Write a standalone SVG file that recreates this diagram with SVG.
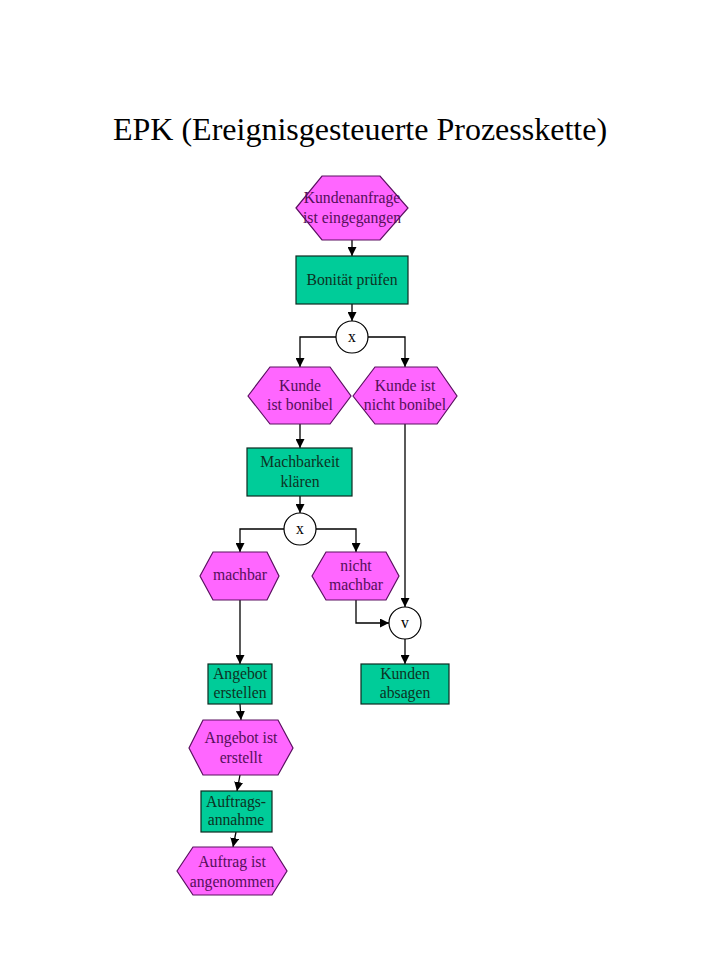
<svg xmlns="http://www.w3.org/2000/svg" width="720" height="960" viewBox="0 0 720 960">
<defs>
<marker id="ah" markerUnits="userSpaceOnUse" markerWidth="9" markerHeight="9" refX="9" refY="4.5" orient="auto">
<path d="M0,0 L9,4.5 L0,9 z" fill="#000"/>
</marker>
<style>
.ev{fill:#ff66ff;stroke:#5a1060;stroke-width:1.2}
.fn{fill:#00cc99;stroke:#0d2a20;stroke-width:1.2}
.op{fill:#fff;stroke:#000;stroke-width:1.2}
.et{font-family:"Liberation Serif",serif;font-size:15.7px;fill:#55105a;text-anchor:middle}
.ft{font-family:"Liberation Serif",serif;font-size:15.7px;fill:#0d3324;text-anchor:middle}
.ot{font-family:"Liberation Serif",serif;font-size:15.7px;fill:#000;text-anchor:middle}
.c{fill:none;stroke:#000;stroke-width:1.3;marker-end:url(#ah)}
</style>
</defs>
<rect width="720" height="960" fill="#fff"/>
<text x="360" y="140" font-family="Liberation Serif,serif" font-size="32" text-anchor="middle" fill="#000">EPK (Ereignisgesteuerte Prozesskette)</text>

<g id="connectors">
<path class="c" d="M352,240 V256"/>
<path class="c" d="M352,304 V321"/>
<path class="c" d="M336,337 H300 V367"/>
<path class="c" d="M368,337 H405 V367"/>
<path class="c" d="M300,424 V448"/>
<path class="c" d="M300,496 V513"/>
<path class="c" d="M284,529 H240 V552"/>
<path class="c" d="M316,529 H356 V552"/>
<path class="c" d="M240,600 V664"/>
<path class="c" d="M405,424 V607"/>
<path class="c" d="M356,600 V623 H389"/>
<path class="c" d="M405,639 V664"/>
<path class="c" d="M240,704 L241,720"/>
<path class="c" d="M240,775 L237,791"/>
<path class="c" d="M236,832 L233,847"/>
</g>

<g id="e1">
<polygon class="ev" points="296,208 322,176 380,176 408,208 380,240 322,240"/>
<text class="et" x="352" y="203">Kundenanfrage</text>
<text class="et" x="352" y="223">ist eingegangen</text>
</g>
<g id="f1">
<rect class="fn" x="296" y="256" width="112" height="48"/>
<text class="ft" x="352" y="285">Bonität prüfen</text>
</g>
<g id="x1">
<circle class="op" cx="352" cy="337" r="16"/>
<text class="ot" x="352" y="342">x</text>
</g>
<g id="e2">
<polygon class="ev" points="248,396 270,367 330,367 351,396 330,424 270,424"/>
<text class="et" x="300" y="391">Kunde</text>
<text class="et" x="300" y="410">ist bonibel</text>
</g>
<g id="e3">
<polygon class="ev" points="353,396 375,367 437,367 457,396 437,424 375,424"/>
<text class="et" x="405" y="391">Kunde ist</text>
<text class="et" x="405" y="410">nicht bonibel</text>
</g>
<g id="f2">
<rect class="fn" x="247" y="448" width="105" height="48"/>
<text class="ft" x="300" y="467">Machbarkeit</text>
<text class="ft" x="300" y="487">klären</text>
</g>
<g id="x2">
<circle class="op" cx="300" cy="529" r="16"/>
<text class="ot" x="300" y="534">x</text>
</g>
<g id="e4">
<polygon class="ev" points="200,576 213,552 267,552 279,576 267,600 213,600"/>
<text class="et" x="240" y="580">machbar</text>
</g>
<g id="e5">
<polygon class="ev" points="312,576 326,552 386,552 399,576 386,600 326,600"/>
<text class="et" x="356" y="571">nicht</text>
<text class="et" x="356" y="590">machbar</text>
</g>
<g id="v1">
<circle class="op" cx="405" cy="623" r="16"/>
<text class="ot" x="405" y="628">v</text>
</g>
<g id="f3">
<rect class="fn" x="208" y="664" width="64" height="40"/>
<text class="ft" x="240" y="679">Angebot</text>
<text class="ft" x="240" y="698">erstellen</text>
</g>
<g id="f4">
<rect class="fn" x="361" y="664" width="88" height="40"/>
<text class="ft" x="405" y="679">Kunden</text>
<text class="ft" x="405" y="698">absagen</text>
</g>
<g id="e6">
<polygon class="ev" points="189,748 203,720 278,720 293,748 278,775 203,775"/>
<text class="et" x="241" y="743">Angebot ist</text>
<text class="et" x="241" y="763">erstellt</text>
</g>
<g id="f5">
<rect class="fn" x="201" y="791" width="71" height="41"/>
<text class="ft" x="236" y="807">Auftrags-</text>
<text class="ft" x="236" y="825">annahme</text>
</g>
<g id="e7">
<polygon class="ev" points="177,871 193,847 272,847 287,871 272,895 193,895"/>
<text class="et" x="232" y="867">Auftrag ist</text>
<text class="et" x="232" y="887">angenommen</text>
</g>
</svg>
